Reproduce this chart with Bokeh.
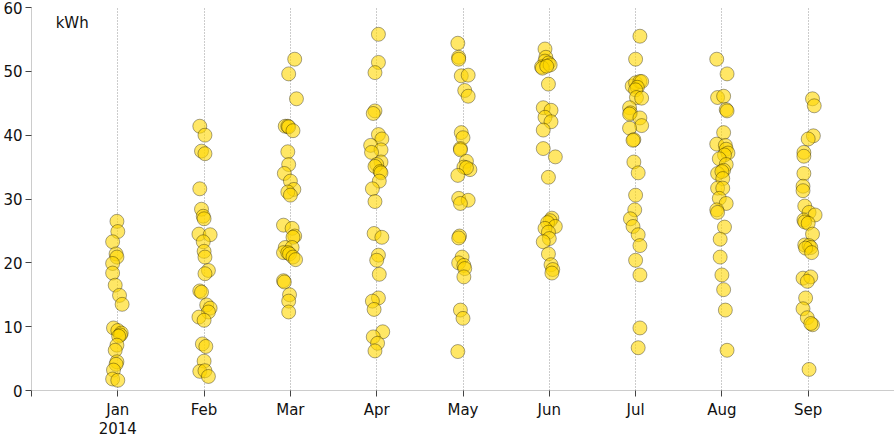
from bokeh.plotting import figure
from bokeh.models import ColumnDataSource, Label, FixedTicker, Range1d
from bokeh.embed import file_html
from bokeh.resources import INLINE

months = ["Jan", "Feb", "Mar", "Apr", "May", "Jun", "Jul", "Aug", "Sep"]
tick_labels = ["Jan\n2014", "Feb", "Mar", "Apr", "May", "Jun", "Jul", "Aug", "Sep"]
y_ticks = [0, 10, 20, 30, 40, 50, 60]

# daily energy (kWh) per month
kwh_jan = [26.5, 24.9, 23.3, 21.4, 20.9, 19.9, 18.4, 16.5, 14.9, 13.5, 9.8, 9.4,
           9.0, 8.7, 8.5, 7.1, 6.3, 4.5, 4.1, 3.2, 1.8, 1.6]
kwh_feb = [41.4, 40.0, 37.5, 37.1, 31.6, 28.4, 27.3, 26.9, 24.5, 24.4, 23.3, 21.8,
           20.9, 18.8, 18.3, 15.6, 15.4, 13.4, 12.9, 12.3, 11.5, 11.0, 7.3, 6.9,
           4.6, 3.0, 3.1, 2.2]
kwh_mar = [51.9, 49.6, 45.7, 41.4, 41.4, 41.3, 40.7, 37.4, 35.4, 34.0, 32.8, 31.5,
           31.1, 30.6, 25.9, 25.4, 24.2, 24.0, 22.4, 22.4, 21.6, 21.6, 21.4, 20.9,
           20.5, 17.2, 17.0, 15.0, 14.0, 12.3]
kwh_apr = [55.8, 51.4, 49.8, 43.8, 43.4, 40.1, 39.4, 38.4, 37.7, 37.3, 35.8, 35.4,
           35.1, 34.3, 34.1, 32.8, 31.6, 29.6, 24.6, 24.0, 21.2, 20.4, 18.2, 14.5,
           14.0, 12.7, 9.2, 8.4, 7.4, 6.2]
kwh_may = [54.4, 52.2, 51.9, 49.3, 49.4, 47.0, 46.1, 40.4, 39.6, 37.9, 37.7, 35.9,
           35.0, 34.6, 34.9, 33.7, 30.1, 29.8, 29.3, 24.2, 23.9, 20.9, 20.0, 19.6,
           19.1, 17.8, 12.6, 11.3, 6.1]
kwh_jun = [53.5, 52.2, 51.6, 51.3, 50.7, 50.5, 51.0, 50.8, 48.0, 44.3, 43.9, 42.8,
           42.1, 40.8, 37.9, 36.6, 33.4, 27.0, 26.6, 26.3, 25.7, 25.4, 24.8, 23.8,
           23.3, 21.4, 19.7, 18.95, 18.4]
kwh_jul = [55.5, 51.9, 47.7, 48.2, 48.4, 48.4, 47.5, 47.1, 45.9, 45.8, 44.3, 43.5,
           43.3, 42.7, 41.5, 41.1, 39.3, 39.2, 35.8, 34.1, 30.6, 28.3, 26.9, 25.7,
           24.4, 22.7, 20.4, 18.1, 9.8, 6.7]
kwh_aug = [51.9, 49.6, 45.9, 46.1, 44.0, 43.8, 40.4, 38.6, 38.4, 37.8, 37.2, 36.9,
           36.3, 35.4, 34.5, 34.0, 34.3, 33.2, 31.7, 31.7, 30.1, 29.3, 28.3, 27.9,
           25.6, 23.7, 20.9, 18.1, 15.8, 12.6, 6.3]
kwh_sep = [45.7, 44.6, 39.9, 39.4, 37.3, 36.7, 34.0, 32.0, 31.3, 28.9, 27.9, 27.5,
           26.7, 26.4, 26.2, 24.5, 22.8, 22.7, 22.4, 22.3, 21.6, 17.6, 17.8, 17.1,
           14.5, 12.8, 11.4, 10.3, 10.5, 3.3]

# horizontal jitter (fraction of a month)
jit_jan = [-0.01, 0.00, -0.06, -0.02, -0.01, -0.06, -0.06, -0.03, 0.02, 0.05, -0.05, 0.00,
           0.04, 0.03, 0.01, -0.01, -0.03, -0.01, -0.02, -0.05, -0.06, 0.00]
jit_feb = [-0.05, 0.01, -0.03, 0.01, -0.05, -0.03, -0.01, 0.00, -0.06, 0.07, -0.01, 0.00,
           0.01, 0.05, 0.01, -0.05, -0.03, 0.03, 0.07, 0.05, -0.06, 0.00, -0.02, 0.02,
           0.00, -0.05, 0.01, 0.05]
jit_mar = [0.05, -0.02, 0.07, -0.06, -0.03, -0.02, 0.03, -0.03, -0.02, -0.07, 0.00, 0.04,
           -0.03, 0.00, -0.08, 0.02, 0.05, 0.03, -0.06, 0.02, -0.08, -0.03, -0.01, 0.03,
           0.06, -0.08, -0.07, -0.01, -0.02, -0.02]
jit_apr = [0.02, 0.02, -0.02, -0.02, -0.04, 0.02, 0.06, -0.07, 0.05, -0.06, 0.05, 0.00,
           -0.02, 0.04, 0.05, 0.03, -0.05, -0.02, -0.03, 0.06, 0.02, 0.00, 0.03, 0.02,
           -0.05, -0.03, 0.07, -0.04, 0.01, -0.02]
jit_may = [-0.06, -0.05, -0.05, -0.02, 0.06, 0.02, 0.06, -0.02, 0.00, -0.03, -0.03, 0.04,
           0.01, 0.08, 0.04, -0.06, -0.05, 0.06, -0.03, -0.04, -0.05, -0.01, -0.05, 0.01,
           0.02, 0.01, -0.03, 0.00, -0.06]
jit_jun = [-0.05, -0.04, -0.05, -0.01, -0.09, -0.08, 0.01, -0.03, -0.01, -0.07, 0.02, -0.05,
           0.02, -0.07, -0.07, 0.07, -0.01, 0.03, 0.01, -0.02, 0.07, -0.05, -0.01, 0.00,
           -0.07, -0.01, 0.02, 0.04, 0.03]
jit_jul = [0.05, 0.00, -0.04, 0.00, 0.05, 0.07, 0.02, 0.00, 0.01, 0.07, -0.07, -0.06,
           -0.07, 0.05, 0.07, -0.07, -0.02, -0.03, -0.02, 0.03, 0.00, -0.01, -0.06, -0.03,
           0.03, 0.05, 0.00, 0.05, 0.05, 0.03]
jit_aug = [-0.06, 0.06, -0.05, 0.02, 0.05, 0.06, 0.02, -0.06, 0.04, 0.05, 0.07, 0.03,
           -0.03, 0.05, 0.02, -0.05, 0.00, 0.01, -0.05, 0.01, -0.03, 0.05, -0.06, -0.05,
           0.03, -0.02, -0.02, 0.00, 0.02, 0.04, 0.06]
jit_sep = [0.05, 0.07, 0.06, 0.00, -0.05, -0.05, -0.05, -0.06, -0.06, -0.04, 0.01, 0.08,
           -0.05, -0.04, 0.00, 0.05, -0.04, 0.01, 0.03, -0.03, 0.04, -0.06, 0.03, -0.01,
           -0.03, -0.06, -0.01, 0.05, 0.03, 0.01]

all_kwh = [kwh_jan, kwh_feb, kwh_mar, kwh_apr, kwh_may, kwh_jun, kwh_jul, kwh_aug, kwh_sep]
all_jit = [jit_jan, jit_feb, jit_mar, jit_apr, jit_may, jit_jun, jit_jul, jit_aug, jit_sep]

xs, ys = [], []
for i, (vals, jits) in enumerate(zip(all_kwh, all_jit), start=1):
    for v, j in zip(vals, jits):
        xs.append(i + j)
        ys.append(v)

source = ColumnDataSource(data=dict(x=xs, y=ys))

FONT = "DejaVu Sans"

p = figure(width=894, height=441, output_backend="svg", toolbar_location=None,
           x_range=Range1d(0, len(months) + 1), y_range=Range1d(0, 60),
           min_border_top=7, min_border_right=0, min_border_left=0, min_border_bottom=0)
p.outline_line_color = None
p.background_fill_color = "white"
p.border_fill_color = "white"

p.scatter("x", "y", source=source, size=14, fill_color="#FFD700", fill_alpha=0.6,
          line_color="#000000", line_alpha=0.35, line_width=1)

p.xaxis.ticker = FixedTicker(ticks=list(range(0, len(months) + 1)))
overrides = {0: ""}
overrides.update({i + 1: lab for i, lab in enumerate(tick_labels)})
p.xaxis.major_label_overrides = overrides
p.yaxis.ticker = FixedTicker(ticks=y_ticks)

for ax in (p.xaxis, p.yaxis):
    ax.axis_line_color = "#cccccc"
    ax.major_tick_line_color = "#444444"
    ax.major_tick_in = 0
    ax.major_tick_out = 6
    ax.minor_tick_line_color = None
    ax.major_label_text_font = FONT
    ax.major_label_text_font_size = "15px"
    ax.major_label_text_color = "#111111"
p.xaxis.major_label_standoff = 4
p.xaxis.major_label_text_line_height = 1.1
p.yaxis.major_label_standoff = 3

p.ygrid.grid_line_color = None
p.xgrid.grid_line_color = "#999999"
p.xgrid.grid_line_dash = "1 2"
p.xgrid.grid_line_width = 1

p.add_layout(Label(x=0.28, y=59.0, text="kWh", text_font=FONT, text_font_size="15px",
                   text_color="#111111", text_baseline="top", text_align="left"))

open("out.html", "w").write(file_html(p, INLINE))
